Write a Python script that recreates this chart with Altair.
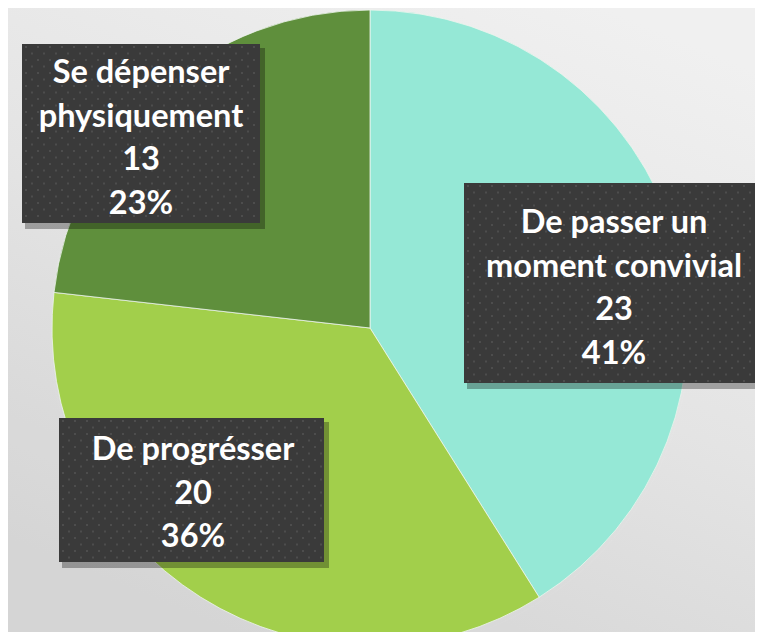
import altair as alt
import pandas as pd
import numpy as np

# ---- data ----
categories = ["De passer un moment convivial", "De progrésser", "Se dépenser physiquement"]
values = [23, 20, 13]
label_lines = [["De passer un", "moment convivial"], ["De progrésser"], ["Se dépenser", "physiquement"]]
colors = ["#95E8D6", "#A2CF4B", "#5F8F3C"]

# ---- layout (pixels inside the svg) ----
W, H = 747, 624
CX, CY, R = 362, 320, 318
box_left = [456, 51, 14]
box_top = [175, 410, 36]
box_right = [749, 316, 252]
box_bottom = [375, 554, 215]
text_center = [606, 185, 133]
first_baseline = [225, 452, 75]
line_gap = 43.5

total = sum(values)
pcts = [round(v / total * 100) for v in values]

pie_df = pd.DataFrame({"cat": categories, "value": values, "order": list(range(len(values)))})

box_df = pd.DataFrame({"x1": box_left, "x2": box_right, "y1": box_top, "y2": box_bottom})
shadow_df = box_df.copy()
shadow_df["x1"] += 3; shadow_df["x2"] += 5; shadow_df["y1"] += 4; shadow_df["y2"] += 6

rows = []
for i in range(len(values)):
    lines = label_lines[i] + [str(values[i]), f"{pcts[i]}%"]
    for j, t in enumerate(lines):
        rows.append({"x": text_center[i], "y": first_baseline[i] + j * line_gap, "t": t})
text_df = pd.DataFrame(rows)

# dotted texture of the label boxes
dots = []
for i in range(len(values)):
    for rj, yy in enumerate(np.arange(box_top[i] + 3, box_bottom[i] - 1, 6.5)):
        off = 0 if rj % 2 == 0 else 6
        for xx in np.arange(box_left[i] + 4 + off, box_right[i] - 1, 12):
            dots.append({"x": float(xx), "y": float(yy)})
dot_df = pd.DataFrame(dots)

ring_df = pd.DataFrame({"r": [R + 2, R + 5, R + 8, R + 12, R + 17, R + 23]})

# ---- layers ----
bg = alt.Chart(pd.DataFrame({"a": [0]})).mark_rect(
    color=alt.LinearGradient(
        gradient="linear",
        stops=[alt.GradientStop(color="#f8f8f8", offset=0),
               alt.GradientStop(color="#ececec", offset=0.5),
               alt.GradientStop(color="#dcdcdc", offset=1)],
        x1=0.8, y1=0, x2=0.3, y2=1)
).encode(x=alt.value(0), x2=alt.value(W), y=alt.value(0), y2=alt.value(H))

glow = alt.Chart(ring_df).mark_arc(color="#000000", opacity=0.03).encode(
    theta=alt.value(0), theta2=alt.value(6.2832),
    radius=alt.Radius("r:Q", scale=None),
    x=alt.value(CX), y=alt.value(CY + 3))

pie = alt.Chart(pie_df).mark_arc(outerRadius=R, stroke="#eef5ee", strokeWidth=0.8).encode(
    theta=alt.Theta("value:Q", stack=True),
    color=alt.Color("cat:N", scale=alt.Scale(domain=categories, range=colors), legend=None),
    order=alt.Order("order:Q"),
    x=alt.value(CX), y=alt.value(CY))

bshadow = alt.Chart(shadow_df).mark_rect(color="#000000", opacity=0.3).encode(
    x=alt.X("x1:Q", scale=None, axis=None), x2="x2:Q",
    y=alt.Y("y1:Q", scale=None, axis=None), y2="y2:Q")

box = alt.Chart(box_df).mark_rect(color="#3a3a3a").encode(
    x=alt.X("x1:Q", scale=None, axis=None), x2="x2:Q",
    y=alt.Y("y1:Q", scale=None, axis=None), y2="y2:Q")

texture = alt.Chart(dot_df).mark_square(size=4, color="#4d4d4d", opacity=1).encode(
    x=alt.X("x:Q", scale=None, axis=None), y=alt.Y("y:Q", scale=None, axis=None))

text = alt.Chart(text_df).mark_text(
    font="Lato", fontWeight="bold", fontSize=32.5, color="#ffffff",
    align="center", baseline="alphabetic").encode(
    x=alt.X("x:Q", scale=None, axis=None), y=alt.Y("y:Q", scale=None, axis=None),
    text="t:N")

chart = alt.layer(bg, glow, pie, bshadow, box, texture, text).properties(
    width=W, height=H, padding=0,
    autosize=alt.AutoSizeParams(type="none")
).configure_view(stroke=None).configure(background="#f0f0f0")

chart.save("out.html", embed_options={"renderer": "svg", "actions": False})
